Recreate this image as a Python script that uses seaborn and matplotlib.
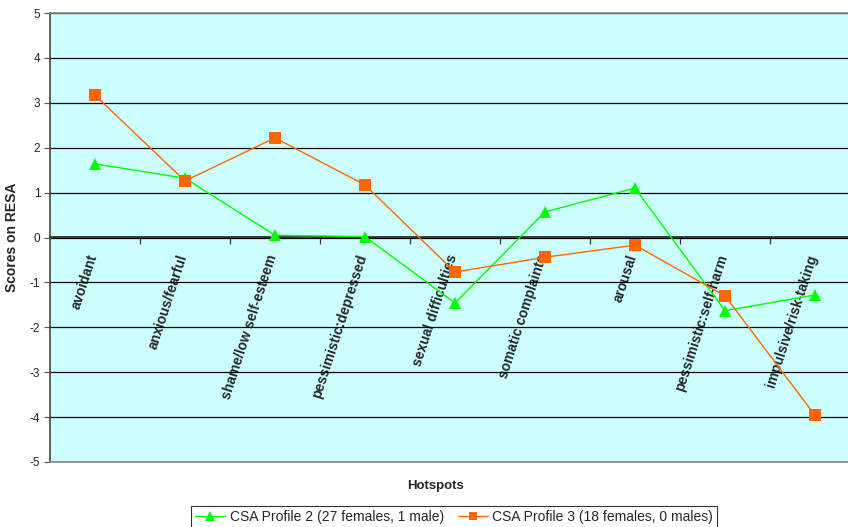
"""
Recreate the CSA profile hotspot chart (scores on RESA by hotspot).
"""

import matplotlib
matplotlib.use("Agg")
import matplotlib.pyplot as plt
import matplotlib.transforms as mtransforms
import numpy as np
import pandas as pd
import seaborn as sns

# Chart data
hotspots = [
    "avoidant", "anxious/fearful", "shame/low self-esteem", "pessimistic:depressed",
    "sexual difficulties", "somatic complaints", "arousal", "pessimistic:self-harm",
    "impulsive/risk-taking",
]
profile2_label = "CSA Profile 2 (27 females, 1 male)"
profile3_label = "CSA Profile 3 (18 females, 0 males)"
profile2_scores = [1.64, 1.32, 0.05, 0.02, -1.46, 0.57, 1.10, -1.63, -1.28]
profile3_scores = [3.17, 1.26, 2.22, 1.17, -0.77, -0.44, -0.17, -1.30, -3.96]
y_ticks = list(range(-5, 6))

GREEN = "#00FF00"
ORANGE = "#FF6600"
BG = "#CCFFFF"


def build_frame() -> pd.DataFrame:
    pos = list(range(len(hotspots)))
    df2 = pd.DataFrame({"pos": pos, "score": profile2_scores, "profile": profile2_label})
    df3 = pd.DataFrame({"pos": pos, "score": profile3_scores, "profile": profile3_label})
    return pd.concat([df2, df3], ignore_index=True)


def main():
    sns.set_theme(style="white")
    plt.rcParams["font.family"] = ["Liberation Sans", "DejaVu Sans"]

    fig = plt.figure(figsize=(8.48, 5.27), dpi=100)
    # plot area runs off the right edge, like the original
    ax = fig.add_axes([50 / 848, 1 - 462 / 527, 810 / 848, 449 / 527])
    ax.set_facecolor(BG)

    df = build_frame()
    sns.lineplot(
        data=df, x="pos", y="score", hue="profile", style="profile",
        palette={profile2_label: GREEN, profile3_label: ORANGE},
        markers={profile2_label: "^", profile3_label: "s"},
        dashes=False, linewidth=1.0, markersize=9, markeredgewidth=0,
        ax=ax, legend=False, zorder=3,
    )

    n = len(hotspots)
    ax.set_xlim(-0.5, n - 0.5)
    ax.set_ylim(-5, 5)
    ax.set_yticks(y_ticks)
    ax.set_yticklabels([str(v) for v in y_ticks], fontsize=8.5, color="#222222")
    ax.tick_params(axis="y", direction="out", length=4, width=0.8, color="#555555",
                   left=True, pad=3)
    ax.set_xticks([])
    ax.set_xlabel("")
    ax.set_ylabel("Scores on RESA", fontsize=10, fontweight="bold", labelpad=8)
    ax.yaxis.grid(True, color="black", linewidth=0.9)
    ax.set_axisbelow(True)
    for side in ["top", "right", "bottom"]:
        ax.spines[side].set_color("#888888")
        ax.spines[side].set_linewidth(1.2)
    ax.spines["left"].set_color("#444444")
    ax.spines["left"].set_linewidth(1.2)

    # category axis crossing at zero
    sec = ax.secondary_xaxis(0.5)
    sec.xaxis.set_ticks_position("bottom")
    sec.xaxis.set_label_position("bottom")
    sec.spines["bottom"].set_color("black")
    sec.spines["bottom"].set_linewidth(0.9)
    sec.set_xticks(np.arange(0.5, n - 1, 1.0))
    sec.set_xticklabels([])
    sec.set_xticks(np.arange(n), minor=True)
    sec.set_xticklabels(hotspots, minor=True, rotation=72, ha="right",
                        fontsize=10, fontweight="bold")
    sec.tick_params(axis="x", which="both", bottom=True, top=False,
                    labelbottom=True, labeltop=False)
    sec.tick_params(axis="x", which="major", direction="out", length=4, width=0.9,
                    color="#333333")
    sec.tick_params(axis="x", which="minor", length=0, pad=11)
    shift = mtransforms.ScaledTranslation(5 / 100, 0, fig.dpi_scale_trans)
    for lbl in sec.get_xticklabels(minor=True):
        lbl.set_transform(lbl.get_transform() + shift)

    fig.text(435 / 848, 1 - 486 / 527, "Hotspots", ha="center", va="center",
             fontsize=9.5, fontweight="bold")

    handles = [
        plt.Line2D([], [], color=GREEN, marker="^", markersize=7, linewidth=1.0,
                   markeredgewidth=0),
        plt.Line2D([], [], color=ORANGE, marker="s", markersize=6, linewidth=1.0,
                   markeredgewidth=0),
    ]
    leg = fig.legend(handles, [profile2_label, profile3_label], ncol=2,
                     loc="upper center", bbox_to_anchor=(454 / 848, 1 - 506 / 527),
                     fontsize=10, frameon=True, fancybox=False, handlelength=2.2,
                     handletextpad=0.3, columnspacing=1.0, borderpad=0.3,
                     borderaxespad=0)
    leg.get_frame().set_edgecolor("black")
    leg.get_frame().set_linewidth(0.8)

    fig.savefig("out.png", dpi=100, facecolor="white")


if __name__ == "__main__":
    main()
